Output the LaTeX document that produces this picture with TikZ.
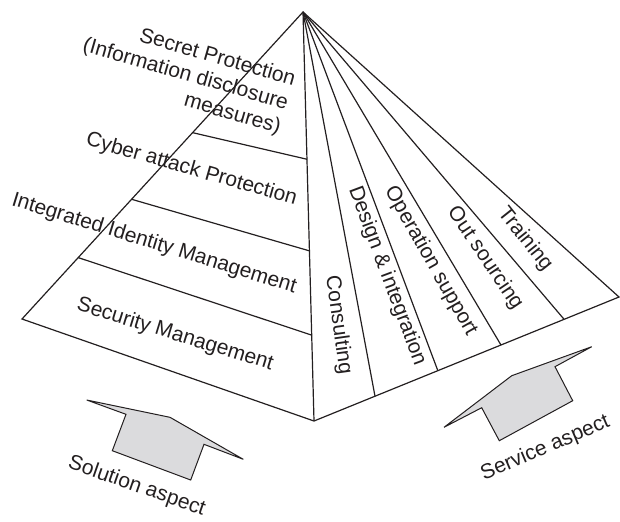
\documentclass[tikz,border=0pt]{standalone}
\usepackage{fontspec}
\setsansfont{Liberation Sans}
\usetikzlibrary{calc}
\definecolor{ink}{RGB}{35,31,32}
\definecolor{arrowfill}{RGB}{219,219,221}
\begin{document}
\begin{tikzpicture}[x=.5pt, y=-.5pt, line width=.6pt, draw=ink, text=ink,
	font=\sffamily\fontsize{10.5}{12.5}\selectfont,
	aspect/.style={draw=ink, fill=arrowfill, line width=.5pt}]
	\useasboundingbox (0,0) rectangle (620,521);
	%corners
	\coordinate (apex) at (303,12);
	\coordinate (left) at (22,319);
	\coordinate (front) at (314,421);
	\coordinate (right) at (619,297);
	%faces
	\draw (apex) -- (left) -- (front) -- (right) -- cycle;
	\draw (apex) -- (front);
	%solution layers
	\foreach \l/\f in {.2/.21,.39/.416,.607/.64}
	\draw ($(left)!\l!(apex)$) -- ($(front)!\f!(apex)$);
	%service strips
	\foreach \t in {.2,.406,.613,.82}
	\draw (apex) -- ($(front)!\t!(right)$);
	%solution labels
	\node[rotate=-16, align=center] (secret) at (210.4,82.1)
	{Secret Protection\\(Information disclosure\hspace*{26pt}\mbox{}\\\hspace*{30pt}measures)};
	\node[rotate=-16, anchor=base] (cyber) at (190,175) {Cyber attack Protection};
	\node[rotate=-17.2, anchor=base] (identity) at (152.5,249) {Integrated Identity Management};
	\node[rotate=-17.1, anchor=base] (security) at (173.5,340) {Security Management};
	%service labels
	\node[rotate=-82] (consulting) at (338.3,325) {Consulting};
	\node[rotate=-69.5] (design) at (387,276.2) {Design \& integration};
	\node[rotate=-60.5] (operation) at (430.7,261.2) {Operation support};
	\node[rotate=-56] (outsourcing) at (485,258.3) {Out sourcing};
	\node[rotate=-51.5] (training) at (525,239.2) {Training};
	%arrows
	\draw[aspect] (86.7,400) -- (126,414.3) -- (112.3,450.7) -- (190.7,480)
	-- (204,444.3) -- (243.3,459.3) -- (170,417.3) -- cycle;
	\draw[aspect] (444,427.3) -- (481.7,407.7) -- (499.3,440.7) -- (572.7,400.7)
	-- (555,366.7) -- (591.7,346.7) -- (511.7,375.7) -- cycle;
	\node[rotate=-19.3, anchor=base] (solution) at (135,491.7) {Solution aspect};
	\node[rotate=23.1, anchor=base] (service) at (547.5,453.3) {Service aspect};
\end{tikzpicture}
\end{document}
